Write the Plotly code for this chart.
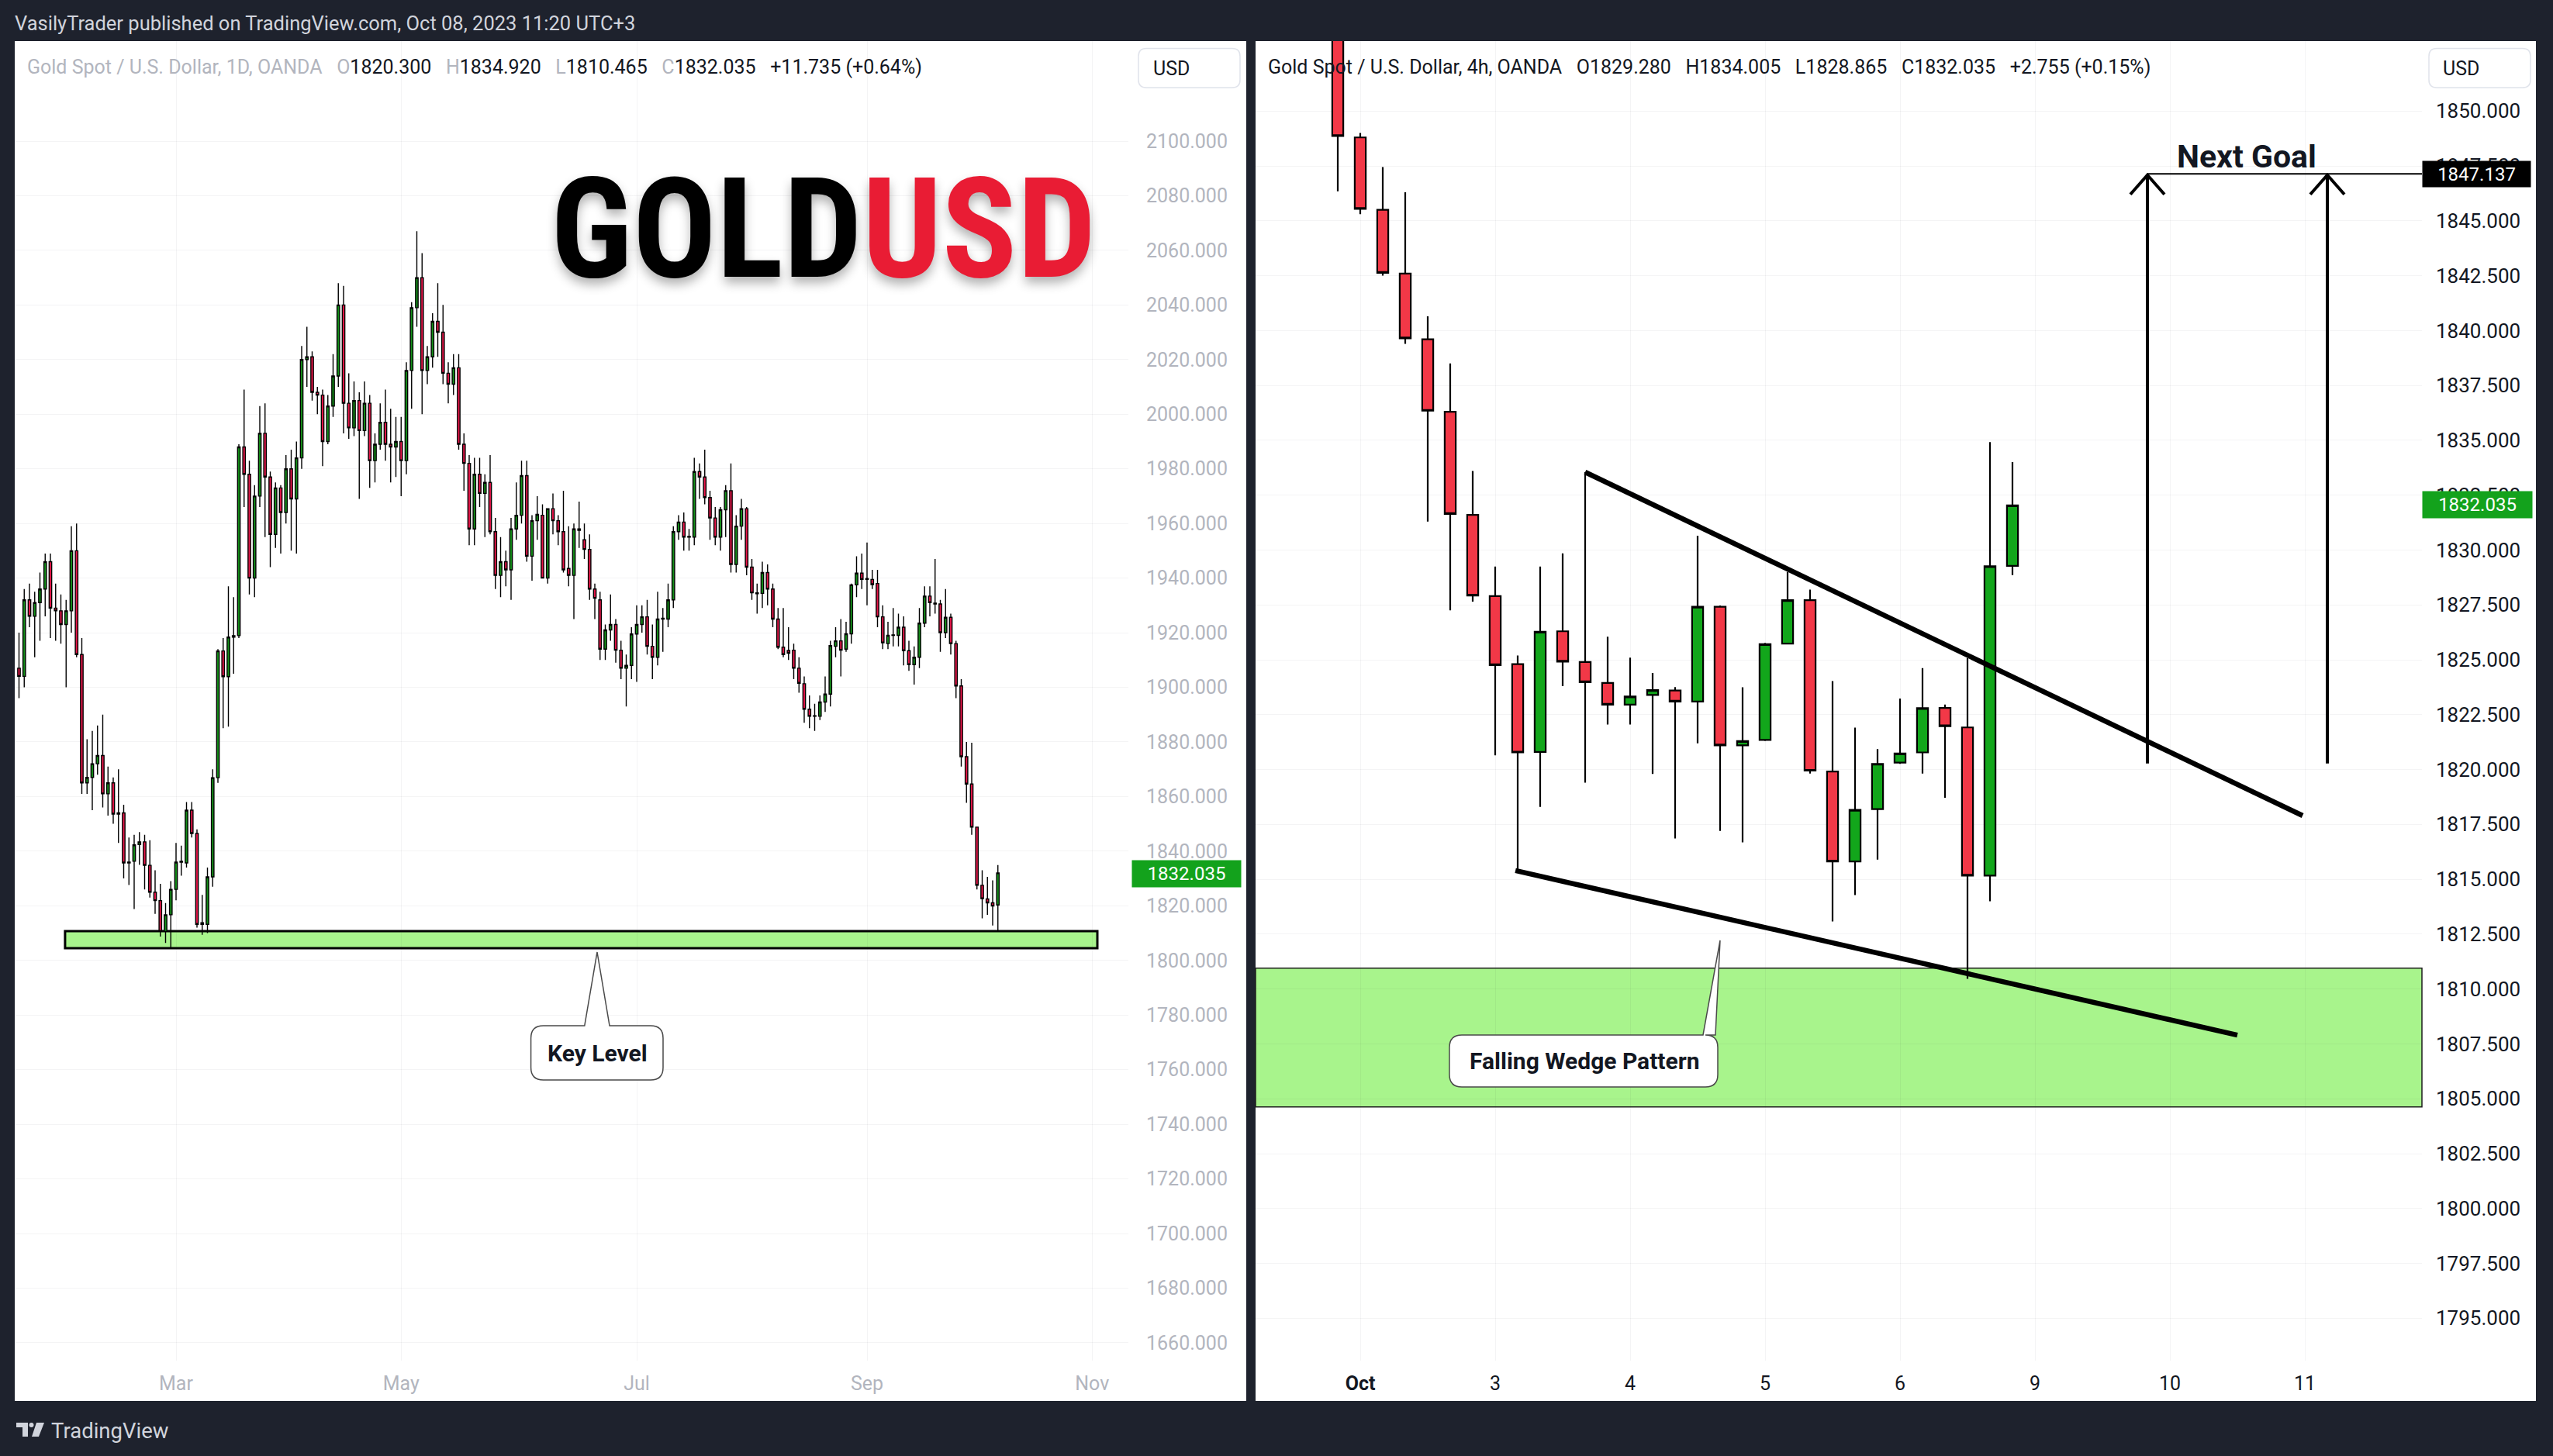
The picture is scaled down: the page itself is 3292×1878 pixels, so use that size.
import plotly.graph_objects as go

W, H = 3292, 1878

# ---------------- DATA: daily XAUUSD (Jan 18 .. Oct 6, 2023) ----------------
d_open = [1907, 1904, 1932, 1926, 1931, 1936, 1946, 1929, 1928, 1923,
          1928, 1950, 1912, 1865, 1867, 1872, 1875, 1861, 1865, 1853.6, 1854, 1835.7, 1836.3, 1842.4, 1843.4, 1834.8, 1825, 1821.9, 1810.6, 1816.7,
          1826, 1836, 1835.7, 1855, 1846.5, 1813.2, 1813.2, 1830.6, 1866.9, 1913.3, 1903.9, 1918.4, 1918.9, 1988, 1978, 1940, 1970, 1993, 1977, 1956, 1973, 1964, 1980,
          1969, 1984, 2020, 2021, 2008, 2007, 1990, 2003, 2014, 2040, 2004, 1995, 2005, 1994, 2004, 1983, 1989, 1997, 1989, 1988,
          1990, 1983, 2016, 2039, 2050, 2016, 2021, 2034, 2030, 2015, 2011, 2017, 1989, 1982, 1958, 1978, 1971, 1975, 1957, 1941, 1946, 1943, 1958,
          1963, 1977.5, 1948, 1961, 1963, 1940, 1965.4, 1961, 1957, 1943.5, 1941, 1958, 1954, 1950.5, 1936, 1932, 1914, 1921, 1923, 1913.6, 1907, 1908,
          1919.5, 1923, 1925.8, 1915, 1911, 1925, 1925, 1932, 1957, 1960.5, 1955, 1955, 1979, 1977, 1969.5, 1962, 1955, 1965, 1972, 1945, 1959,
          1965.4, 1944, 1934.6, 1934.4, 1942, 1936, 1925, 1914.7, 1913.5, 1913.6, 1907, 1901.3, 1892, 1889.4, 1889.4, 1894.6, 1897.5, 1915, 1917, 1914, 1919.6, 1937.5, 1941.8,
          1939.5, 1939.5, 1938, 1925.8, 1916, 1919, 1919, 1922, 1913.4, 1908.3, 1911, 1923.5, 1933.4, 1930.8, 1930.5, 1920, 1925.6, 1916, 1900.5, 1874.6, 1864.6,
          1848.8, 1827.5, 1822.5, 1821.1, 1820.3]
d_high = [1920, 1936, 1938, 1935, 1942, 1949, 1949, 1938, 1934, 1932,
          1959, 1960, 1918, 1881, 1884, 1886, 1890, 1871, 1867, 1870, 1857, 1845, 1846, 1847, 1846, 1844, 1833, 1828, 1821, 1829,
          1843, 1842, 1858, 1858, 1848, 1824, 1834, 1870, 1914, 1918, 1937, 1933, 1989, 2009, 1983, 1974, 2003, 2004, 1979, 1975, 1974, 1985, 1987,
          1990, 2025, 2032, 2023, 2010, 2009, 2007, 2022, 2048, 2047, 2015, 2012, 2008, 2012, 2007, 1993, 2004, 2009, 2002, 1999,
          1999, 2019, 2041, 2067, 2059, 2025, 2037, 2048, 2040, 2019, 2022, 2022, 1993, 1985, 1984, 1984, 1978, 1985, 1962, 1955, 1950, 1962, 1975,
          1983, 1983, 1963, 1970, 1967, 1965.5, 1971, 1963, 1972, 1959, 1960, 1968, 1960, 1956, 1938, 1935, 1923, 1934, 1925, 1917, 1912, 1922,
          1930, 1930, 1932, 1923, 1935, 1929, 1938, 1959, 1963, 1964, 1958, 1984, 1982, 1987, 1972, 1966, 1966, 1974, 1982, 1963, 1969,
          1966, 1947, 1938, 1946, 1945, 1938, 1929, 1929, 1922, 1916, 1911, 1904, 1897, 1894, 1897, 1904, 1917, 1922, 1925, 1924, 1938, 1948, 1949,
          1953, 1943, 1943, 1930, 1924, 1929, 1927, 1926, 1917, 1915, 1929, 1937, 1937, 1947, 1932, 1936, 1927, 1917, 1903, 1880, 1879.7,
          1849, 1833, 1830.6, 1829.3, 1834.92]
d_low = [1896, 1900, 1922, 1911, 1917, 1926, 1918, 1917, 1916, 1900,
         1920, 1911, 1861, 1861, 1855, 1868, 1856, 1853, 1850, 1843, 1830, 1827.6, 1818.8, 1835, 1826, 1823, 1817, 1808.7, 1806.4, 1804.7,
         1822, 1831, 1834, 1845, 1812, 1809.4, 1810, 1827, 1865, 1885, 1885.6, 1905, 1918, 1966, 1934, 1933, 1966, 1955, 1944, 1951, 1949, 1960, 1950,
         1949, 1980, 2010, 2005, 2000, 1981, 1989, 1999, 2010, 1993, 1991, 1992, 1969, 1992, 1973, 1975, 1987, 1983, 1975, 1977,
         1970, 1978, 2002, 2032, 2000, 2011, 2017, 2021, 2011, 2004, 2007, 1987, 1972, 1952, 1952, 1966, 1955, 1956, 1936, 1933, 1937, 1932, 1954,
         1960, 1946, 1939, 1954, 1940, 1938, 1956, 1952, 1942, 1937, 1925, 1951, 1947, 1932, 1925, 1910, 1910, 1917, 1909, 1903, 1893, 1903,
         1902, 1920, 1912, 1903, 1908, 1913, 1922, 1929, 1954, 1950, 1950, 1952, 1969, 1967, 1954, 1952, 1950, 1955, 1942, 1942, 1954,
         1941, 1932, 1927, 1929, 1930, 1922, 1914, 1911, 1910, 1903, 1898, 1887, 1885, 1884, 1888, 1891, 1893, 1911, 1904, 1913, 1916, 1933, 1936,
         1930, 1936, 1922, 1914, 1914, 1915, 1915, 1908, 1906, 1901, 1907, 1922, 1926, 1927, 1913, 1918, 1912, 1896, 1871, 1857.7, 1846,
         1826, 1815.4, 1816.7, 1812.8, 1810.465]
d_close = [1904, 1932, 1926, 1931, 1936, 1946, 1929, 1928, 1923, 1928,
           1950, 1912, 1865, 1867, 1872, 1875, 1861, 1865, 1853.6, 1854, 1835.7, 1836, 1842.3, 1843.4, 1834.8, 1825, 1821.9, 1810.6, 1816.7, 1826,
           1836, 1836.3, 1855, 1846.5, 1813.2, 1813.8, 1830.6, 1866.9, 1913.3, 1903.9, 1918.4, 1918.9, 1988, 1978, 1940, 1970, 1993, 1977, 1956, 1973, 1964, 1980, 1969,
           1984, 2020, 2021, 2008, 2007, 1990, 2003, 2014, 2040, 2004, 1995, 2005, 1994, 2004, 1983, 1989, 1997, 1989, 1988, 1990,
           1983, 2016, 2039, 2050, 2016, 2021, 2034, 2030, 2015, 2011, 2017, 1989, 1982, 1958, 1978, 1971, 1975, 1957, 1941, 1946, 1943, 1958, 1963,
           1977.5, 1948, 1961, 1963.3, 1940, 1965.4, 1961, 1957, 1943, 1941, 1958, 1957.5, 1950.5, 1936, 1932.6, 1914, 1921, 1923, 1913.6, 1907, 1908, 1919.5,
           1923, 1925.8, 1915, 1911, 1925, 1925.3, 1932, 1957, 1960.5, 1955, 1955.2, 1979, 1977, 1969.5, 1962, 1955, 1965, 1972, 1945, 1959, 1965.4,
           1944, 1934.6, 1934.3, 1942, 1936, 1925, 1914.7, 1912, 1912.5, 1907, 1901.5, 1892, 1889.4, 1889.6, 1894.6, 1897.5, 1915.3, 1917, 1913.6, 1919.6, 1937.5, 1941.8, 1939.5,
           1939.8, 1937.6, 1925.8, 1916.3, 1919, 1919.2, 1922, 1913.4, 1908.3, 1911, 1923.5, 1933.4, 1931, 1930.5, 1920, 1925.6, 1916, 1900.5, 1874.6, 1864.6, 1848.8,
           1827.5, 1822.6, 1821.1, 1819.9, 1832.035]
d_tickvals = [30, 73, 118, 162, 205]
d_ticktext = ["Mar", "May", "Jul", "Sep", "Nov"]
d_price_ticks = list(range(1660, 2101, 20))
key_level = [1804.5, 1810.7]
key_level_span = [8.8, 206]

# ---------------- DATA: 4h XAUUSD (bar index, 0 = first bar of Oct 2) ----------------
h_first = -1
h_open = [1855.0, 1848.8, 1845.5, 1842.6, 1839.6, 1836.3, 1831.6, 1827.9, 1824.8, 1820.8, 1826.3, 1824.9, 1823.95, 1822.96, 1823.4, 1823.6,
          1823.1, 1827.42, 1821.1, 1821.35, 1825.74, 1827.72, 1819.91, 1815.81, 1818.2, 1820.32, 1820.78, 1822.81, 1821.92, 1815.17, 1829.28]
h_high = [1856.0, 1849.0, 1847.45, 1846.3, 1840.65, 1838.5, 1833.6, 1829.25, 1825.2, 1829.25, 1829.85, 1833.55, 1826.05, 1825.1, 1824.4, 1823.76,
          1830.65, 1827.47, 1823.75, 1825.77, 1829.0, 1828.2, 1824.03, 1821.91, 1820.93, 1823.24, 1824.62, 1822.96, 1825.08, 1834.92, 1834.005]
h_low = [1846.35, 1845.3, 1842.5, 1839.4, 1831.3, 1827.25, 1827.65, 1820.65, 1815.4, 1818.3, 1823.8, 1819.4, 1822.05, 1822.05, 1819.8, 1816.86,
         1821.2, 1817.2, 1816.68, 1821.3, 1825.7, 1819.82, 1813.08, 1814.28, 1815.9, 1820.26, 1819.82, 1818.71, 1810.465, 1814.0, 1828.865]
h_close = [1848.87, 1845.55, 1842.63, 1839.65, 1836.35, 1831.65, 1827.93, 1824.76, 1820.78, 1826.28, 1824.92, 1823.98, 1822.96, 1823.33, 1823.62, 1823.1,
           1827.42, 1821.1, 1821.3, 1825.71, 1827.72, 1819.95, 1815.81, 1818.16, 1820.26, 1820.73, 1822.8, 1821.98, 1815.17, 1829.26, 1832.035]
h_tickvals = [0, 6, 12, 18, 24, 30, 36, 42]
h_ticktext = ["<b>Oct</b>", "3", "4", "5", "6", "9", "10", "11"]
h_price_ticks = [1795 + 2.5 * i for i in range(23)]
demand_zone = [1804.63, 1810.95]
wedge_upper = [[10, 1833.55], [41.9, 1817.9]]
wedge_lower = [[6.9, 1815.4], [39.0, 1807.9]]
goal_level = 1847.137
goal_arrows_x = [35, 43]
goal_arrow_base = 1820.28
last_price = 1832.035

# ---------------- layout geometry (pixels) ----------------
BG = "#1e222d"
TXT = "#131722"
GRAY = "#b2b5be"
FONT = "Roboto, Inter, Arial, sans-serif"
L_GREEN, L_RED = "#15901a", "#e8174a"
R_GREEN, R_RED = "#12a61b", "#f23847"
TAG_GREEN = "#13a21c"

PLOT_TOP, PLOT_BOT = 53, 1755
L_X0, L_X1 = 19, 1455
R_X0, R_X1 = 1619, 3123
L_IDX0, L_STEP = 24.5, 6.75
L_P_REF, L_Y_REF, L_PPU = 2100, 182.0, 3.5225
R_IDX0, R_STEP = 1754.0, 29.0
R_P_REF, R_Y_REF, R_PPU = 1850, 143.3, 28.31


def px(x):
    return x / W


def py(y):
    return 1 - y / H


def P(x, y):
    return f"{px(x):.6f},{py(y):.6f}"


def rrect(x0, y0, x1, y1, r, notch=None):
    parts = [f"M{P(x0 + r, y0)}"]
    if notch:
        bx0, bx1, tx, ty = notch
        parts += [f"L{P(bx0, y0)}", f"L{P(tx, ty)}", f"L{P(bx1, y0)}"]
    parts += [f"L{P(x1 - r, y0)}", f"Q{P(x1, y0)} {P(x1, y0 + r)}",
              f"L{P(x1, y1 - r)}", f"Q{P(x1, y1)} {P(x1 - r, y1)}",
              f"L{P(x0 + r, y1)}", f"Q{P(x0, y1)} {P(x0, y1 - r)}",
              f"L{P(x0, y0 + r)}", f"Q{P(x0, y0)} {P(x0 + r, y0)}", "Z"]
    return " ".join(parts)


fig = go.Figure()

fig.add_trace(go.Candlestick(
    x=list(range(len(d_close))), open=d_open, high=d_high, low=d_low, close=d_close,
    xaxis="x", yaxis="y", hoverinfo="skip", showlegend=False, whiskerwidth=0,
    increasing=dict(fillcolor=L_GREEN, line=dict(color="#000000", width=1.4)),
    decreasing=dict(fillcolor=L_RED, line=dict(color="#000000", width=1.4)),
))
fig.add_trace(go.Candlestick(
    x=[h_first + i for i in range(len(h_close))], open=h_open, high=h_high, low=h_low, close=h_close,
    xaxis="x2", yaxis="y2", hoverinfo="skip", showlegend=False, whiskerwidth=0,
    increasing=dict(fillcolor=R_GREEN, line=dict(color="#000000", width=2.2)),
    decreasing=dict(fillcolor=R_RED, line=dict(color="#000000", width=2.2)),
))

grid = "rgba(42,46,57,0.05)"
l_xr = [(L_X0 - L_IDX0) / L_STEP, (L_X1 - L_IDX0) / L_STEP]
l_yr = [L_P_REF - (PLOT_BOT - L_Y_REF) / L_PPU, L_P_REF + (L_Y_REF - PLOT_TOP) / L_PPU]
r_xr = [(R_X0 - R_IDX0) / R_STEP, (R_X1 - R_IDX0) / R_STEP]
r_yr = [R_P_REF - (PLOT_BOT - R_Y_REF) / R_PPU, R_P_REF + (R_Y_REF - PLOT_TOP) / R_PPU]

axis_common = dict(showline=False, zeroline=False, ticks="", showgrid=True, gridcolor=grid, gridwidth=1, fixedrange=True)

fig.update_layout(
    width=W, height=H, margin=dict(l=0, r=0, t=0, b=0),
    paper_bgcolor=BG, plot_bgcolor="rgba(0,0,0,0)", showlegend=False,
    font=dict(family=FONT, color=TXT),
    xaxis=dict(domain=[px(L_X0), px(L_X1)], range=l_xr, anchor="y", tickvals=d_tickvals, ticktext=d_ticktext,
               tickfont=dict(size=25, color=GRAY, family=FONT), ticklabelstandoff=12,
               rangeslider=dict(visible=False), **axis_common),
    yaxis=dict(domain=[py(PLOT_BOT), py(PLOT_TOP)], range=l_yr, anchor="x", side="right",
               tickvals=d_price_ticks, ticktext=[f"{v:.3f}" for v in d_price_ticks],
               tickfont=dict(size=25, color=GRAY, family=FONT), ticklabelstandoff=22, **axis_common),
    xaxis2=dict(domain=[px(R_X0), px(R_X1)], range=r_xr, anchor="y2", tickvals=h_tickvals, ticktext=h_ticktext,
                tickfont=dict(size=25, color=TXT, family=FONT), ticklabelstandoff=12,
                rangeslider=dict(visible=False), **axis_common),
    yaxis2=dict(domain=[py(PLOT_BOT), py(PLOT_TOP)], range=r_yr, anchor="x2", side="right",
                tickvals=h_price_ticks, ticktext=[f"{v:.3f}" for v in h_price_ticks],
                tickfont=dict(size=26, color=TXT, family=FONT), ticklabelstandoff=17, **axis_common),
)

shapes = []
for (x0, x1) in [(19, 1607), (1619, 3270)]:
    shapes.append(dict(type="rect", xref="paper", yref="paper", x0=px(x0), x1=px(x1), y0=py(1807), y1=py(53),
                       fillcolor="#ffffff", line=dict(width=0), layer="below"))
shapes.append(dict(type="rect", xref="x", yref="y", x0=key_level_span[0], x1=key_level_span[1],
                   y0=key_level[0], y1=key_level[1], fillcolor="#a8f48c", line=dict(color="#000000", width=3), layer="below"))
shapes.append(dict(type="rect", xref="x2 domain", yref="y2", x0=0, x1=1, y0=demand_zone[0], y1=demand_zone[1],
                   fillcolor="#a8f48c", line=dict(color="#1e1e1e", width=1.5), layer="below"))
for seg in (wedge_upper, wedge_lower):
    shapes.append(dict(type="line", xref="x2", yref="y2", x0=seg[0][0], y0=seg[0][1], x1=seg[1][0], y1=seg[1][1],
                       line=dict(color="#000000", width=6.5), layer="above"))
shapes.append(dict(type="line", xref="x2", yref="y2", x0=goal_arrows_x[0], x1=r_xr[1], y0=goal_level, y1=goal_level,
                   line=dict(color="#000000", width=2), layer="above"))
dxh, dyh = 22 / R_STEP, 25 / R_PPU
for ax in goal_arrows_x:
    shapes.append(dict(type="line", xref="x2", yref="y2", x0=ax, x1=ax, y0=goal_arrow_base, y1=goal_level - 0.05,
                       line=dict(color="#000000", width=4), layer="above"))
    shapes.append(dict(type="path", xref="x2", yref="y2",
                       path=f"M{ax - dxh},{goal_level - 0.05 - dyh} L{ax},{goal_level - 0.05} L{ax + dxh},{goal_level - 0.05 - dyh}",
                       line=dict(color="#000000", width=4), layer="above"))
shapes.append(dict(type="path", xref="paper", yref="paper",
                   path=rrect(684.6, 1323, 855, 1393, 16, notch=(753.8, 786, 770, 1228)),
                   fillcolor="#ffffff", line=dict(color="#4a4a4a", width=1.5), layer="above"))
shapes.append(dict(type="path", xref="paper", yref="paper",
                   path=rrect(1869, 1335, 2215, 1402, 16, notch=(2196, 2212, 2218, 1213)),
                   fillcolor="#ffffff", line=dict(color="#4a4a4a", width=1.5), layer="above"))
for (x0, x1) in [(1468, 1599), (3132, 3263)]:
    shapes.append(dict(type="path", xref="paper", yref="paper", path=rrect(x0, 62.5, x1, 113, 10),
                       fillcolor="#ffffff", line=dict(color="#e0e3eb", width=1.5), layer="above"))
shapes.append(dict(type="path", xref="paper", yref="paper",
                   path=f"M{P(21, 1835)} L{P(36, 1835)} L{P(36, 1853)} L{P(29, 1853)} L{P(29, 1841)} L{P(21, 1841)} Z",
                   fillcolor="#d1d4dc", line=dict(width=0), layer="above"))
shapes.append(dict(type="circle", xref="paper", yref="paper", x0=px(37.5), x1=px(43.5), y0=py(1841), y1=py(1835),
                   fillcolor="#d1d4dc", line=dict(width=0), layer="above"))
shapes.append(dict(type="path", xref="paper", yref="paper",
                   path=f"M{P(47, 1835)} L{P(57, 1835)} L{P(50, 1853)} L{P(41, 1853)} Z",
                   fillcolor="#d1d4dc", line=dict(width=0), layer="above"))
fig.update_layout(shapes=shapes)

ann = []


def A(x, y, text, size=24, color=TXT, xanchor="left", yanchor="middle", family=FONT, **kw):
    ann.append(dict(xref="paper", yref="paper", x=px(x), y=py(y), text=text, showarrow=False,
                    xanchor=xanchor, yanchor=yanchor, font=dict(size=size, color=color, family=family), **kw))


sp = "\u00a0\u00a0\u00a0"
A(17, 30, "VasilyTrader published on TradingView.com, Oct 08, 2023 11:20 UTC+3", size=25.5, color="#d1d4dc")


def g(t):
    return f"<span style='color:{GRAY}'>{t}</span>"


left_header = (g("Gold Spot / U.S. Dollar, 1D, OANDA") + sp + g("O") + "1820.300" + sp + g("H") + "1834.920" + sp +
               g("L") + "1810.465" + sp + g("C") + "1832.035" + sp + "+11.735 (+0.64%)")
A(33, 87, left_header, size=25)
right_header = ("Gold Spot / U.S. Dollar, 4h, OANDA" + sp + "O1829.280" + sp + "H1834.005" + sp + "L1828.865" + sp +
                "C1832.035" + sp + "+2.755 (+0.15%)")
A(1633, 87, right_header, size=25)
A(1485, 88, "USD", size=25)
A(3148, 88, "USD", size=25)

# title
ann.append(dict(xref="paper", yref="paper", x=px(1061), y=py(295), showarrow=False, xanchor="center", yanchor="middle",
                text="<b>GOLD<span style='color:#e91c34'>USD</span></b>",
                font=dict(size=180, color="#000000",
                          family="Roboto Condensed, Liberation Sans Narrow, Arial Narrow, Noto Sans Condensed, Roboto",
                          shadow="0px 8px 14px rgba(0,0,0,0.30)")))

A(1530, 1127, f"{last_price:.3f}", size=24, color="#ffffff", xanchor="center",
  bgcolor=TAG_GREEN, width=140, height=34, borderpad=0)
A(3194, 651, f"{last_price:.3f}", size=24, color="#ffffff", xanchor="center",
  bgcolor=TAG_GREEN, width=141, height=34, borderpad=0)
A(3193, 224, f"{goal_level:.3f}", size=24, color="#ffffff", xanchor="center",
  bgcolor="#000000", width=139, height=33, borderpad=0)

A(770, 1358, "<b>Key Level</b>", size=30, xanchor="center")
A(2043, 1368, "<b>Falling Wedge Pattern</b>", size=30, xanchor="center")
A(2897, 202, "<b>Next Goal</b>", size=41, xanchor="center")
A(64, 1845, "TradingView", size=27.5, color="#d1d4dc")

fig.update_layout(annotations=ann)
fig.write_html("out.html", config={"displayModeBar": False, "staticPlot": True},
               post_script="document.body.style.margin='0px';document.body.style.padding='0px';"
                           "document.body.style.background='#1e222d';")
